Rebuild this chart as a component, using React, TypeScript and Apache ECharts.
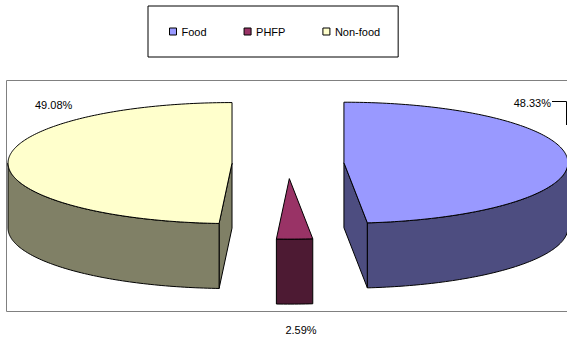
import React, { useEffect, useRef } from "react";
import * as echarts from "echarts";

// Shares of expenditure (%)
const categories = ["Food", "PHFP", "Non-food"];
const shares = [48.33, 2.59, 49.08];

// Excel-style palette: top faces and darker side walls
const topColors = ["#9999FF", "#993366", "#FFFFCC"];
const sideColors = ["#4D4D80", "#4D1A33", "#808066"];

// Pie geometry in pixels
const CX = 288;
const CY = 163.5;
const RX = 224;
const RY = 60.5;
const DEPTH = 65;
const EXPLODE = 0.25;

const FONT = "'Liberation Sans', Arial, Helvetica, sans-serif";

// Label placement for each slice
const labelSpecs = [
  { x: 551, y: 103, align: "right", leader: [[552, 101.5], [566.5, 101.5], [566.5, 125]] },
  { x: 301, y: 330, align: "center", leader: null },
  { x: 35, y: 105, align: "left", leader: null },
];

const sinD = (d: number) => Math.sin((d * Math.PI) / 180);
const cosD = (d: number) => Math.cos((d * Math.PI) / 180);

// start / end angle (degrees clockwise from 12 o'clock) for each slice
const total = shares.reduce((s, v) => s + v, 0);
const slices = (() => {
  let acc = 0;
  return shares.map((v) => {
    const start = (acc / total) * 360;
    acc += v;
    const end = (acc / total) * 360;
    return [start, end, v];
  });
})();

const renderSlice = (params: any, api: any) => {
  const start = api.value(0) as number;
  const end = api.value(1) as number;
  const value = api.value(2) as number;
  const i = params.seriesIndex as number;
  const mid = (start + end) / 2;
  const cx = CX + EXPLODE * RX * sinD(mid);
  const cy = CY - EXPLODE * RY * cosD(mid);
  const at = (deg: number, drop = 0) => [cx + RX * sinD(deg), cy - RY * cosD(deg) + drop];
  const arc = (a: number, b: number, drop = 0) => {
    const n = Math.max(1, Math.ceil(Math.abs(b - a)));
    const pts: number[][] = [];
    for (let k = 0; k <= n; k++) pts.push(at(a + ((b - a) * k) / n, drop));
    return pts;
  };
  const edge = { stroke: "#000", lineWidth: 1, lineJoin: "round" };
  const side = { ...edge, fill: sideColors[i] };
  const children: any[] = [];

  // radial cut faces, only those turned towards the viewer
  if (-sinD(start) > 1e-6) {
    children.push({
      type: "polygon",
      shape: { points: [[cx, cy], at(start), at(start, DEPTH), [cx, cy + DEPTH]] },
      style: side,
    });
  }
  if (sinD(end) > 1e-6) {
    children.push({
      type: "polygon",
      shape: { points: [[cx, cy], at(end), at(end, DEPTH), [cx, cy + DEPTH]] },
      style: side,
    });
  }
  // front part of the outer wall
  const a = Math.max(start, 90);
  const b = Math.min(end, 270);
  if (b > a) {
    children.push({
      type: "polygon",
      shape: { points: [...arc(a, b), ...arc(b, a, DEPTH)] },
      style: side,
    });
  }
  // top face
  children.push({
    type: "polygon",
    shape: { points: [[cx, cy], ...arc(start, end)] },
    style: { ...edge, fill: topColors[i] },
  });

  // percentage label
  const spec = labelSpecs[i];
  children.push({
    type: "text",
    style: {
      text: value.toFixed(2) + "%",
      x: spec.x,
      y: spec.y,
      fill: "#000",
      fontSize: 11,
      fontFamily: FONT,
      align: spec.align,
      verticalAlign: "middle",
    },
  });
  if (spec.leader) {
    children.push({
      type: "polyline",
      shape: { points: spec.leader },
      style: { stroke: "#000", lineWidth: 1, fill: "none" },
    });
  }
  return { type: "group", children };
};

export default function App() {
  const ref = useRef<HTMLDivElement>(null);

  useEffect(() => {
    if (!ref.current) return;
    const chart = echarts.init(ref.current, undefined, { renderer: "svg" });
    chart.setOption({
      animation: false,
      backgroundColor: "#fff",
      legend: {
        data: categories,
        left: 148,
        top: 6,
        orient: "horizontal",
        padding: [20, 18, 20, 21],
        itemWidth: 7,
        itemHeight: 7,
        itemGap: 37,
        icon: "rect",
        borderColor: "#000",
        borderWidth: 1,
        selectedMode: false,
        itemStyle: { borderColor: "#000", borderWidth: 1 },
        textStyle: { fontSize: 11, fontFamily: FONT, color: "#000" },
      },
      graphic: [
        {
          type: "rect",
          z: -10,
          shape: { x: 6.5, y: 80.5, width: 600, height: 231 },
          style: { fill: "none", stroke: "#808080", lineWidth: 1 },
        },
      ],
      series: categories.map((name, i) => ({
        type: "custom",
        name,
        coordinateSystem: "none",
        itemStyle: { color: topColors[i] },
        renderItem: renderSlice,
        data: [{ name, value: slices[i] }],
      })),
    });
    return () => chart.dispose();
  }, []);

  return (
    <div
      ref={ref}
      style={{ position: "fixed", left: 0, top: 0, width: 567, height: 339, background: "#fff" }}
    />
  );
}
